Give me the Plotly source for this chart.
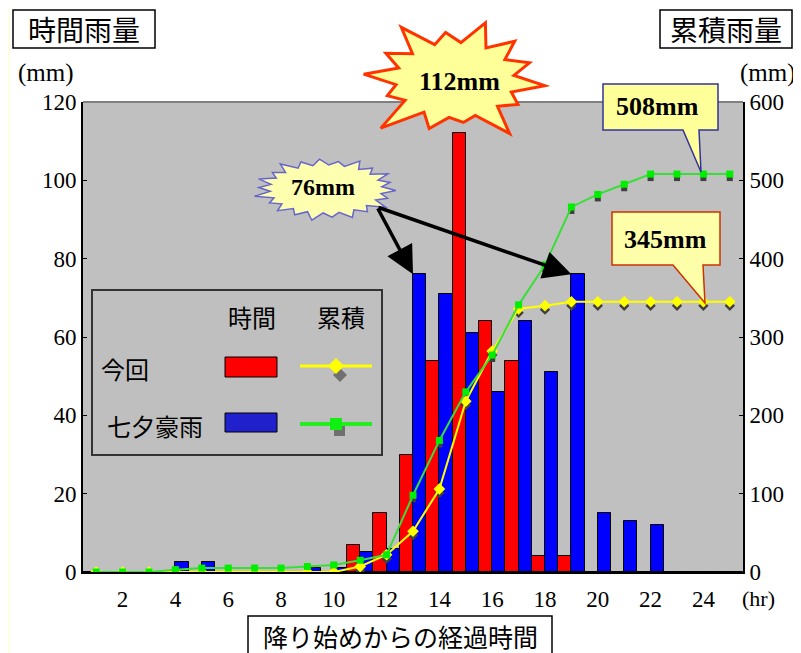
import math
import plotly.graph_objects as go

# ---------------- data ----------------
hours = list(range(1, 26))
xtick_vals = list(range(2, 25, 2))
xtick_text = [str(v) for v in xtick_vals]

hourly_now = [0, 0, 0, 0, 0, 0, 0, 0, 0, 0, 7, 15, 30, 54, 112, 64, 54, 4, 4, 0, 0, 0, 0, 0, 0]
hourly_tanabata = [0, 0, 0, 2.5, 2.5, 0, 0, 0, 1, 1, 5, 6, 76, 71, 61, 46, 64, 51, 76, 15, 13, 12, 0, 0, 0]
cum_now = [0, 0, 0, 0, 0, 0, 0, 0, 0, 0, 7, 22, 52, 106, 218, 282, 336, 340, 345, 345, 345, 345, 345, 345, 345]
cum_tanabata = [0, 0, 0, 3, 5, 5, 5, 5, 7, 9, 15, 22, 98, 168, 230, 277, 341, 392, 466, 482, 495, 508, 508, 508, 508]

left_ticks = [0, 20, 40, 60, 80, 100, 120]
right_ticks = [0, 100, 200, 300, 400, 500, 600]

# ---------------- geometry helpers (decorations only) ----------------
# The page adds an 8px body margin, so the figure itself is 8px smaller.
OFF = 8
FW, FH = 801 - OFF, 653 - OFF
L, R, T, B = 83, 743, 102, 572   # plot area in reference pixels


def fx(px):
    return (px - L) / (R - L)


def fy(py):
    return (B - py) / (B - T)


def path_from(points):
    return "M " + " L ".join(f"{fx(x):.5f},{fy(y):.5f}" for x, y in points) + " Z"


def star_points(cx, cy, rx, ry, n, inner, jitter, rot=0.0):
    pts = []
    for i in range(2 * n):
        a = rot + math.pi * i / n
        f = jitter[(i // 2) % len(jitter)] if i % 2 == 0 else inner
        pts.append((cx + rx * f * math.cos(a), cy + ry * f * math.sin(a)))
    return pts


JP = "Noto Sans CJK JP"
SERIF = "Liberation Serif"

fig = go.Figure()

# bars
fig.add_trace(go.Bar(x=hours, y=hourly_now, name="今回 時間",
                     marker=dict(color="#FF0000", line=dict(color="#000000", width=1))))
fig.add_trace(go.Bar(x=hours, y=hourly_tanabata, name="七夕豪雨 時間",
                     marker=dict(color="#0000FF", line=dict(color="#000000", width=1))))

# marker shadows (drawn on an offset hidden axis)
fig.add_trace(go.Scatter(x=hours, y=cum_now, yaxis="y2", mode="markers", hoverinfo="skip",
                         marker=dict(symbol="diamond", size=8, color="#404040")))
fig.add_trace(go.Scatter(x=hours, y=cum_tanabata, yaxis="y2", mode="markers", hoverinfo="skip",
                         marker=dict(symbol="square", size=6, color="#404040")))

# cumulative lines
fig.add_trace(go.Scatter(x=hours, y=cum_now, yaxis="y3", mode="lines+markers", name="今回 累積",
                         line=dict(color="#FFFF00", width=2),
                         marker=dict(symbol="diamond", size=9, color="#FFFF00")))
fig.add_trace(go.Scatter(x=hours, y=cum_tanabata, yaxis="y3", mode="lines+markers", name="七夕豪雨 累積",
                         line=dict(color="#3ADD3A", width=2),
                         marker=dict(symbol="square", size=7, color="#00EE00")))

shapes = []
# pale left strip of the page
shapes.append(dict(type="rect", xref="paper", yref="paper", x0=fx(0), x1=fx(10), y0=fy(700), y1=fy(-20),
                   fillcolor="#FFFFE4", line=dict(width=0), layer="below"))
# top border of plot area
shapes.append(dict(type="line", xref="paper", yref="paper", x0=0, x1=1, y0=1, y1=1,
                   line=dict(color="#808080", width=2)))
# title boxes
for (x0, y0, x1, y1) in [(13, 10, 155, 48), (660, 10, 792, 48), (248, 616, 552, 662)]:
    shapes.append(dict(type="rect", xref="paper", yref="paper", x0=fx(x0), x1=fx(x1), y0=fy(y1), y1=fy(y0),
                       fillcolor="#FFFFFF", line=dict(color="#000000", width=1.5)))
# legend box
shapes.append(dict(type="rect", xref="paper", yref="paper", x0=fx(92), x1=fx(382), y0=fy(455), y1=fy(290),
                   fillcolor="#BFBFBF", line=dict(color="#333333", width=2)))
shapes.append(dict(type="rect", xref="paper", yref="paper", x0=fx(225), x1=fx(277), y0=fy(377), y1=fy(357),
                   fillcolor="#FF0000", line=dict(color="#000000", width=1)))
shapes.append(dict(type="rect", xref="paper", yref="paper", x0=fx(225), x1=fx(277), y0=fy(432), y1=fy(413),
                   fillcolor="#2020CC", line=dict(color="#000000", width=1)))
# legend line samples
shapes.append(dict(type="path", xref="paper", yref="paper",
                   path=path_from([(340, 368), (347, 375), (340, 382), (333, 375)]),
                   fillcolor="#707070", line=dict(width=0)))
shapes.append(dict(type="line", xref="paper", yref="paper", x0=fx(300), x1=fx(372), y0=fy(366), y1=fy(366),
                   line=dict(color="#FFFF00", width=3)))
shapes.append(dict(type="path", xref="paper", yref="paper",
                   path=path_from([(336, 358), (344, 366), (336, 374), (328, 366)]),
                   fillcolor="#FFFF00", line=dict(width=0)))
shapes.append(dict(type="rect", xref="paper", yref="paper", x0=fx(334), x1=fx(345), y0=fy(436), y1=fy(426),
                   fillcolor="#707070", line=dict(width=0)))
shapes.append(dict(type="line", xref="paper", yref="paper", x0=fx(300), x1=fx(372), y0=fy(424), y1=fy(424),
                   line=dict(color="#22EE22", width=4)))
shapes.append(dict(type="rect", xref="paper", yref="paper", x0=fx(330), x1=fx(342), y0=fy(430), y1=fy(418),
                   fillcolor="#11EE11", line=dict(width=0)))
# explosion callouts
big_j = [1.0, 0.82, 1.12, 0.75, 0.9, 1.18, 0.8, 1.02, 0.9, 1.1, 0.84, 1.06, 0.95, 0.88]
shapes.append(dict(type="path", xref="paper", yref="paper",
                   path=path_from(star_points(455, 80, 90, 57, 14, 0.66, big_j, rot=0.1)),
                   fillcolor="#FFFF9A", line=dict(color="#FF3300", width=3)))
small_j = [1.0, 0.93, 1.05, 0.96, 1.02, 0.94, 1.06, 0.97]
shapes.append(dict(type="path", xref="paper", yref="paper",
                   path=path_from(star_points(326, 189, 70, 30, 22, 0.8, small_j, rot=0.05)),
                   fillcolor="#FFFFB0", line=dict(color="#6666CC", width=1.5)))
# rectangular callouts
shapes.append(dict(type="path", xref="paper", yref="paper",
                   path=path_from([(603, 84), (718, 84), (718, 130), (699, 130), (701, 172), (683, 130), (603, 130)]),
                   fillcolor="#FFFF9A", line=dict(color="#333399", width=1.5)))
shapes.append(dict(type="path", xref="paper", yref="paper",
                   path=path_from([(612, 212), (720, 212), (720, 265), (703, 265), (705, 303), (673, 265), (612, 265)]),
                   fillcolor="#FFFFAA", line=dict(color="#CC3300", width=1.5)))


def ann(px, py, text, size, family=JP, bold=False, xanchor="center"):
    return dict(xref="paper", yref="paper", x=fx(px), y=fy(py), text=(f"<b>{text}</b>" if bold else text),
                showarrow=False, xanchor=xanchor, yanchor="middle",
                font=dict(family=family, size=size, color="#000000"))


annotations = [
    ann(84, 29, "時間雨量", 28),
    ann(726, 29, "累積雨量", 28),
    ann(46, 73, "(mm)", 25, SERIF),
    ann(768, 73, "(mm)", 25, SERIF),
    ann(758, 598, "(hr)", 22, SERIF),
    ann(400, 636, "降り始めからの経過時間", 25),
    ann(252, 316, "時間", 24),
    ann(341, 316, "累積", 24),
    ann(125, 368, "今回", 24),
    ann(155, 425, "七夕豪雨", 24),
    ann(459, 82, "112mm", 26, SERIF, bold=True),
    ann(323, 187, "76mm", 24, SERIF, bold=True),
    ann(657, 106, "508mm", 26, SERIF, bold=True),
    ann(665, 239, "345mm", 26, SERIF, bold=True),
]

# arrows from the 76mm callout to the two 76 mm bars
for xi in [13, 19]:
    tip_px = L + (xi - 0.5) / 25.0 * (R - L)
    tip_py = B - 76 / 120.0 * (B - T)
    annotations.append(dict(xref="x", yref="y", x=xi, y=76, text="", showarrow=True,
                            ax=377 - tip_px, ay=207 - tip_py, axref="pixel", ayref="pixel",
                            arrowhead=2, arrowsize=1.6, arrowwidth=3.5, arrowcolor="#000000"))

tick_font = dict(family=SERIF, size=23, color="#000000")
shadow_shift = 4 / ((B - T) / 600.0)   # 4 px downwards, in right-axis units

fig.update_layout(
    width=FW, height=FH,
    margin=dict(l=L - OFF, r=FW - (R - OFF), t=T - OFF, b=FH - (B - OFF), pad=0),
    paper_bgcolor="#FFFFFF",
    plot_bgcolor="#C0C0C0",
    barmode="group", bargap=0, bargroupgap=0,
    showlegend=False,
    xaxis=dict(range=[0.5, 25.5], tickvals=xtick_vals, ticktext=xtick_text, showgrid=False,
               zeroline=False, showline=True, linecolor="#000000", linewidth=2, ticks="",
               tickfont=tick_font, ticklabelstandoff=5),
    yaxis=dict(range=[0, 120], tickvals=left_ticks, showgrid=False, zeroline=False, showline=True,
               linecolor="#000000", linewidth=2, ticks="inside", ticklen=4, tickcolor="#000000",
               tickfont=tick_font),
    yaxis2=dict(range=[shadow_shift, 600 + shadow_shift], overlaying="y", visible=False),
    yaxis3=dict(range=[0, 600], overlaying="y", side="right", tickvals=right_ticks, showgrid=False,
                zeroline=False, showline=True, linecolor="#000000", linewidth=2, ticks="inside",
                ticklen=4, tickcolor="#000000", tickfont=tick_font),
    shapes=shapes,
    annotations=annotations,
)

fig.write_html("out.html")
